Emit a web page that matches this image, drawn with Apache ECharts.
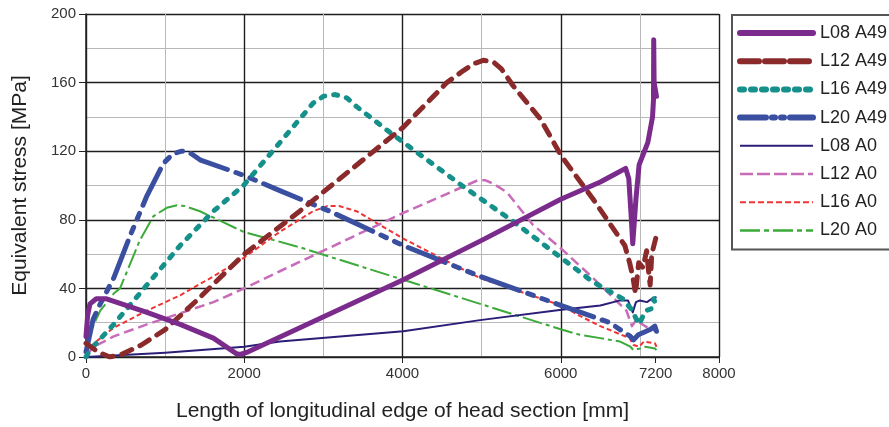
<!DOCTYPE html>
<html>
<head>
<meta charset="utf-8">
<script src="https://cdn.jsdelivr.net/npm/echarts@6/dist/echarts.min.js"></script>
<style>
html,body{margin:0;padding:0;background:#fff;overflow:hidden;}
#chart{width:889px;height:427px;}
</style>
</head>
<body>
<div id="chart"></div>
<script>
// ---- data (x: length [mm], y: equivalent stress [MPa]) ----
const seriesNames = ['L08 A49','L12 A49','L16 A49','L20 A49','L08 A0','L12 A0','L16 A0','L20 A0'];

const L08_A49 = [[0,12],[20,24],[50,31],[130,34],[250,34],[770,26],[1190,19],[1610,11],[1900,2],[1950,1.5],[2050,3],[4010,45],[5000,68],[6000,92],[6500,102],[6700,107],[6820,110],[6860,104],[6890,82],[6910,66],[6950,92],[6990,112],[7100,125],[7160,140],[7172,150],[7175,185],[7180,160],[7210,152]];
const L12_A49 = [[0,8],[150,3],[300,0],[450,1.5],[700,7],[1000,16],[1400,33],[2000,60],[2700,85],[4010,134],[4560,160],[4770,167],[4900,171],[5020,173],[5150,172],[5250,168],[5400,158],[5740,139],[6010,117],[6410,92],[6810,65],[6870,55],[6910,47],[6945,37],[6985,55],[7040,52],[7085,62],[7110,50],[7130,42],[7150,60],[7210,71]];
const L16_A49 = [[0,0],[50,4],[350,19],[770,42],[1190,65],[1610,85],[1990,100],[2450,125],[2870,148],[3000,152],[3150,153],[3300,151],[3420,146],[3840,131],[4750,100],[5400,79],[6000,58],[6400,44],[6780,34],[6890,28],[6990,19],[7070,27],[7140,28],[7175,34],[7210,29]];
const L20_A49 = [[0,3],[90,22],[180,31],[260,38],[350,46],[560,71],[770,94],[980,113],[1100,118.5],[1210,120],[1300,119.5],[1440,115],[1990,106],[2450,97],[3080,85],[4010,65],[4980,47],[6010,30],[6620,20],[6880,12],[6920,10],[6980,13],[7130,16],[7190,18],[7210,15]];
const L08_A0 = [[0,0],[1000,2.5],[2000,6],[2450,9],[4010,15],[4980,21.5],[6010,27.5],[6500,30],[6750,33],[6850,33],[6910,26],[6950,32],[7000,33],[7090,32],[7150,34],[7210,35]];
const L12_A0 = [[0,1],[100,6],[350,12],[770,19],[1610,32],[2000,40],[2450,50],[4010,84],[4800,100],[4950,103],[5050,103],[5150,101],[5320,96],[5650,77],[6010,63],[6410,46],[6830,27],[6900,18],[6960,22],[7000,20],[7100,17],[7210,15]];
const L16_A0 = [[0,2],[100,8],[350,17],[770,27],[1190,36],[1610,47],[2000,58],[2450,73],[2870,85],[3050,88],[3200,88],[3420,85],[4010,69],[4980,46],[6010,30],[6240,24],[6500,18],[6870,11],[6920,7],[6990,6],[7050,9],[7190,8],[7210,6]];
const L20_A0 = [[0,3],[50,14],[180,27],[300,34],[350,37],[430,40],[680,68],[850,82],[1020,87],[1150,88.5],[1250,88],[1440,85],[1990,73],[2700,64],[4010,45],[4980,31],[6010,16],[6240,13],[6500,11],[6750,9],[6880,6],[6920,4],[7000,5],[7070,6],[7190,5],[7210,4]];

const xMin = 0, xMax = 8000, xMajor = 2000, xMinor = 1000, xExtraTick = 7200;
const yMin = 0, yMax = 200, yMajor = 40, yMinor = 20;

const xTitle = 'Length of longitudinal edge of head section [mm]';
const yTitle = 'Equivalent stress [MPa]';

// ---- styles ----
const FONT = "'Liberation Sans', Arial, Helvetica, sans-serif";
const styles = [
  {color:'#7B2B8C', width:5,   type:'solid',          cap:'round', legendType:'solid',        legendWidth:6},
  {color:'#8A2A2A', width:5,   type:[11,9],           cap:'round', legendType:[19,6],         legendWidth:6},
  {color:'#16908A', width:5,   type:[4,9],            cap:'round', legendType:[4,7],          legendWidth:6},
  {color:'#3B4FA0', width:5,   type:[40,9,6,9,6,9],   cap:'round', legendType:[26,6,3,6,3,6], legendWidth:6},
  {color:'#2A1E78', width:2,   type:'solid',          cap:'butt',  legendType:'solid',        legendWidth:2},
  {color:'#C86CB9', width:2.5, type:[10,5],           cap:'butt',  legendType:[13,4],         legendWidth:2.5},
  {color:'#EE3434', width:2,   type:[5,3],            cap:'butt',  legendType:[6,3],          legendWidth:2},
  {color:'#3CAA3A', width:2,   type:[20,4,4,4],       cap:'butt',  legendType:[20,4,5,4],     legendWidth:2.5}
];
const dataSets = [L08_A49, L12_A49, L16_A49, L20_A49, L08_A0, L12_A0, L16_A0, L20_A0];

const chart = echarts.init(document.getElementById('chart'), null, {renderer:'canvas'});

const series = seriesNames.map((name, i) => ({
  name: name,
  type: 'line',
  xAxisIndex: 0,
  yAxisIndex: 0,
  data: dataSets[i],
  symbol: 'none',
  smooth: false,
  animation: false,
  z: 10 - i,
  lineStyle: {color: styles[i].color, width: styles[i].width, type: styles[i].type, cap: styles[i].cap, join: 'round'},
  itemStyle: {color: styles[i].color}
}));

const legendData = seriesNames.map((name, i) => ({
  name: name,
  itemStyle: {color: 'rgba(0,0,0,0)', borderWidth: 0, opacity: 0},
  lineStyle: {width: styles[i].legendWidth, type: styles[i].legendType, color: styles[i].color, cap: styles[i].cap, opacity: 1}
}));

const option = {
  animation: false,
  backgroundColor: '#fff',
  textStyle: {fontFamily: FONT},
  grid: {left: 86, right: 170, top: 14, bottom: 68, containLabel: false},
  legend: {
    orient: 'vertical',
    left: 732,
    top: 15,
    data: legendData,
    itemWidth: 73,
    itemHeight: 18,
    itemGap: 10.2,
    padding: [9, 16, 10, 5],
    borderColor: '#555',
    borderWidth: 2,
    borderRadius: 0,
    backgroundColor: '#fff',
    itemStyle: {color: 'rgba(0,0,0,0)', borderWidth: 0, opacity: 0},
    textStyle: {fontSize: 18, color: '#222', fontFamily: FONT, padding: [0, 0, 0, 2]},
    selectedMode: false
  },
  xAxis: [
    { // minor grid
      type: 'value', position: 'bottom', min: xMin, max: xMax, interval: xMinor,
      axisLine: {show: false}, axisTick: {show: false}, axisLabel: {show: false},
      splitLine: {show: true, lineStyle: {color: '#b8b8b8', width: 1}}
    },
    { // major grid + labels
      type: 'value', position: 'bottom', min: xMin, max: xMax, interval: xMajor,
      name: xTitle, nameLocation: 'middle', nameGap: 44,
      nameTextStyle: {fontSize: 21, color: '#222', fontFamily: FONT},
      axisLine: {show: true, lineStyle: {color: '#222', width: 1.5}},
      axisTick: {show: true, length: 6, lineStyle: {color: '#222', width: 1}},
      axisLabel: {show: true, fontSize: 15, color: '#333', margin: 9, fontFamily: FONT,
        formatter: v => String(v)},
      splitLine: {show: true, lineStyle: {color: '#1e1e1e', width: 1.4}}
    },
    { // extra 7200 tick
      type: 'value', position: 'bottom', min: xMin, max: xMax, interval: xExtraTick,
      axisLine: {show: false},
      axisTick: {show: true, length: 6, lineStyle: {color: '#222', width: 1}},
      axisLabel: {show: true, fontSize: 15, color: '#333', margin: 9, fontFamily: FONT,
        formatter: v => (v === xExtraTick ? String(v) : '')},
      splitLine: {show: false}
    }
  ],
  yAxis: [
    {
      type: 'value', position: 'left', min: yMin, max: yMax, interval: yMinor,
      axisLine: {show: false}, axisTick: {show: false}, axisLabel: {show: false},
      splitLine: {show: true, lineStyle: {color: '#b8b8b8', width: 1}}
    },
    {
      type: 'value', position: 'left', min: yMin, max: yMax, interval: yMajor,
      name: yTitle, nameLocation: 'middle', nameGap: 55, nameRotate: 90,
      nameTextStyle: {fontSize: 21, color: '#222', fontFamily: FONT},
      axisLine: {show: true, lineStyle: {color: '#222', width: 1.5}},
      axisTick: {show: true, length: 7, lineStyle: {color: '#222', width: 1}},
      axisLabel: {show: true, fontSize: 15, color: '#333', margin: 10, fontFamily: FONT,
        formatter: v => String(v)},
      splitLine: {show: true, lineStyle: {color: '#1e1e1e', width: 1.4}}
    }
  ],
  series: series
};

chart.setOption(option);
</script>
</body>
</html>
